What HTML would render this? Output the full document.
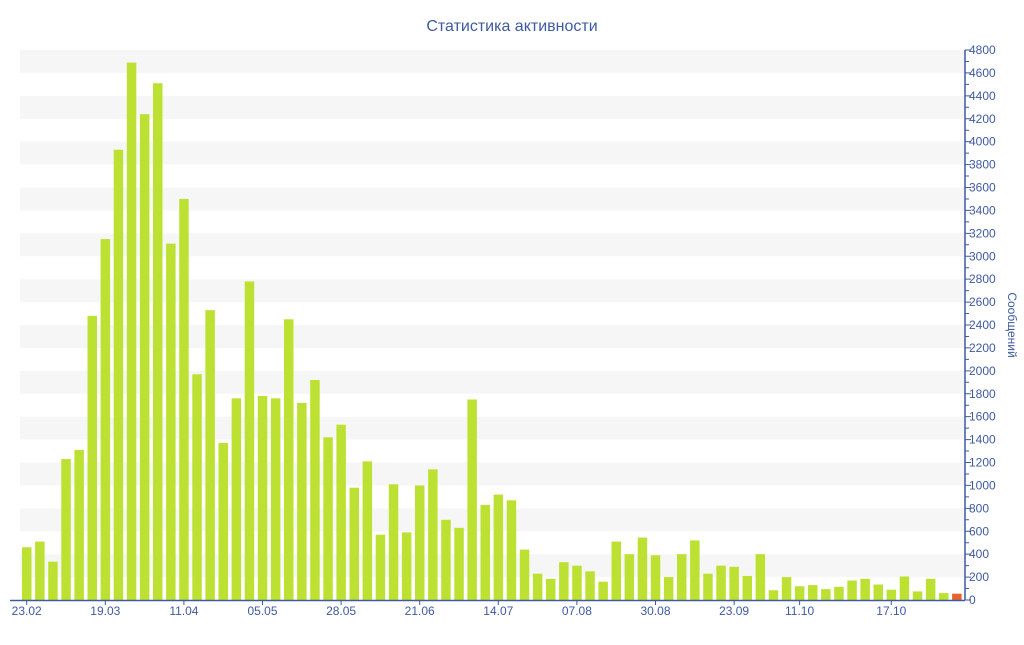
<!DOCTYPE html>
<html><head><meta charset="utf-8"><style>
body{margin:0;background:#fff;}
svg text{font-family:"Liberation Sans","DejaVu Sans",sans-serif;fill:#3e5aa0;}
</style></head><body>
<svg width="1024" height="640" xmlns="http://www.w3.org/2000/svg">
<text x="512" y="31" text-anchor="middle" font-size="16">Статистика активности</text>
<g fill="#f6f6f6">
<rect x="20" y="554.17" width="945" height="22.92"/>
<rect x="20" y="508.33" width="945" height="22.92"/>
<rect x="20" y="462.5" width="945" height="22.92"/>
<rect x="20" y="416.67" width="945" height="22.92"/>
<rect x="20" y="370.83" width="945" height="22.92"/>
<rect x="20" y="325" width="945" height="22.92"/>
<rect x="20" y="279.17" width="945" height="22.92"/>
<rect x="20" y="233.33" width="945" height="22.92"/>
<rect x="20" y="187.5" width="945" height="22.92"/>
<rect x="20" y="141.67" width="945" height="22.92"/>
<rect x="20" y="95.83" width="945" height="22.92"/>
<rect x="20" y="50" width="945" height="22.92"/>
</g>
<g fill="#bde132">
<rect x="22" y="547.29" width="9.5" height="52.71"/>
<rect x="35.1" y="541.56" width="9.5" height="58.44"/>
<rect x="48.2" y="561.61" width="9.5" height="38.39"/>
<rect x="61.3" y="459.06" width="9.5" height="140.94"/>
<rect x="74.4" y="449.9" width="9.5" height="150.1"/>
<rect x="87.5" y="315.83" width="9.5" height="284.17"/>
<rect x="100.6" y="239.06" width="9.5" height="360.94"/>
<rect x="113.7" y="149.69" width="9.5" height="450.31"/>
<rect x="126.8" y="62.6" width="9.5" height="537.4"/>
<rect x="139.9" y="114.17" width="9.5" height="485.83"/>
<rect x="153" y="83.23" width="9.5" height="516.77"/>
<rect x="166.1" y="243.65" width="9.5" height="356.35"/>
<rect x="179.2" y="198.96" width="9.5" height="401.04"/>
<rect x="192.3" y="374.27" width="9.5" height="225.73"/>
<rect x="205.4" y="310.1" width="9.5" height="289.9"/>
<rect x="218.5" y="443.02" width="9.5" height="156.98"/>
<rect x="231.6" y="398.33" width="9.5" height="201.67"/>
<rect x="244.7" y="281.46" width="9.5" height="318.54"/>
<rect x="257.8" y="396.04" width="9.5" height="203.96"/>
<rect x="270.9" y="398.33" width="9.5" height="201.67"/>
<rect x="284" y="319.27" width="9.5" height="280.73"/>
<rect x="297.1" y="402.92" width="9.5" height="197.08"/>
<rect x="310.2" y="380" width="9.5" height="220"/>
<rect x="323.3" y="437.29" width="9.5" height="162.71"/>
<rect x="336.4" y="424.69" width="9.5" height="175.31"/>
<rect x="349.5" y="487.71" width="9.5" height="112.29"/>
<rect x="362.6" y="461.35" width="9.5" height="138.65"/>
<rect x="375.7" y="534.69" width="9.5" height="65.31"/>
<rect x="388.8" y="484.27" width="9.5" height="115.73"/>
<rect x="401.9" y="532.4" width="9.5" height="67.6"/>
<rect x="415" y="485.42" width="9.5" height="114.58"/>
<rect x="428.1" y="469.37" width="9.5" height="130.63"/>
<rect x="441.2" y="519.79" width="9.5" height="80.21"/>
<rect x="454.3" y="527.81" width="9.5" height="72.19"/>
<rect x="467.4" y="399.48" width="9.5" height="200.52"/>
<rect x="480.5" y="504.9" width="9.5" height="95.1"/>
<rect x="493.6" y="494.58" width="9.5" height="105.42"/>
<rect x="506.7" y="500.31" width="9.5" height="99.69"/>
<rect x="519.8" y="549.58" width="9.5" height="50.42"/>
<rect x="532.9" y="573.65" width="9.5" height="26.35"/>
<rect x="546" y="578.8" width="9.5" height="21.2"/>
<rect x="559.1" y="562.19" width="9.5" height="37.81"/>
<rect x="572.2" y="565.62" width="9.5" height="34.38"/>
<rect x="585.3" y="571.35" width="9.5" height="28.65"/>
<rect x="598.4" y="581.67" width="9.5" height="18.33"/>
<rect x="611.5" y="541.56" width="9.5" height="58.44"/>
<rect x="624.6" y="554.17" width="9.5" height="45.83"/>
<rect x="637.7" y="537.55" width="9.5" height="62.45"/>
<rect x="650.8" y="555.31" width="9.5" height="44.69"/>
<rect x="663.9" y="577.08" width="9.5" height="22.92"/>
<rect x="677" y="554.17" width="9.5" height="45.83"/>
<rect x="690.1" y="540.42" width="9.5" height="59.58"/>
<rect x="703.2" y="573.65" width="9.5" height="26.35"/>
<rect x="716.3" y="565.62" width="9.5" height="34.38"/>
<rect x="729.4" y="566.77" width="9.5" height="33.23"/>
<rect x="742.5" y="575.94" width="9.5" height="24.06"/>
<rect x="755.6" y="554.17" width="9.5" height="45.83"/>
<rect x="768.7" y="590.26" width="9.5" height="9.74"/>
<rect x="781.8" y="577.08" width="9.5" height="22.92"/>
<rect x="794.9" y="586.25" width="9.5" height="13.75"/>
<rect x="808" y="585.1" width="9.5" height="14.9"/>
<rect x="821.1" y="589.11" width="9.5" height="10.89"/>
<rect x="834.2" y="586.82" width="9.5" height="13.18"/>
<rect x="847.3" y="580.52" width="9.5" height="19.48"/>
<rect x="860.4" y="578.8" width="9.5" height="21.2"/>
<rect x="873.5" y="584.53" width="9.5" height="15.47"/>
<rect x="886.6" y="589.69" width="9.5" height="10.31"/>
<rect x="899.7" y="576.51" width="9.5" height="23.49"/>
<rect x="912.8" y="591.41" width="9.5" height="8.59"/>
<rect x="925.9" y="578.8" width="9.5" height="21.2"/>
<rect x="939" y="593.12" width="9.5" height="6.88"/>
</g>
<rect x="952.1" y="593.7" width="9.5" height="6.3" fill="#e8622e"/>
<g stroke="#3e5aa0" fill="none">
<line x1="965" y1="50" x2="965" y2="600" stroke-width="1.5"/>
<line x1="10" y1="600.5" x2="965" y2="600.5" stroke-width="1.5"/>
<path d="M965 600H971M965 577.08H971M965 554.17H971M965 531.25H971M965 508.33H971M965 485.42H971M965 462.5H971M965 439.58H971M965 416.67H971M965 393.75H971M965 370.83H971M965 347.92H971M965 325H971M965 302.08H971M965 279.17H971M965 256.25H971M965 233.33H971M965 210.42H971M965 187.5H971M965 164.58H971M965 141.67H971M965 118.75H971M965 95.83H971M965 72.92H971M965 50H971"/>
<path d="M965 588.54H969M965 565.63H969M965 542.71H969M965 519.79H969M965 496.88H969M965 473.96H969M965 451.04H969M965 428.13H969M965 405.21H969M965 382.29H969M965 359.38H969M965 336.46H969M965 313.54H969M965 290.63H969M965 267.71H969M965 244.79H969M965 221.88H969M965 198.96H969M965 176.04H969M965 153.13H969M965 130.21H969M965 107.29H969M965 84.38H969M965 61.46H969"/>
<path d="M26.7 600V605M105.3 600V605M183.9 600V605M262.5 600V605M341.1 600V605M419.7 600V605M498.3 600V605M576.9 600V605M655.5 600V605M734.1 600V605M799.6 600V605M891.3 600V605"/>
</g>
<g font-size="12">
<text x="969" y="604">0</text>
<text x="969" y="581.08">200</text>
<text x="969" y="558.17">400</text>
<text x="969" y="535.25">600</text>
<text x="969" y="512.33">800</text>
<text x="969" y="489.42">1000</text>
<text x="969" y="466.5">1200</text>
<text x="969" y="443.58">1400</text>
<text x="969" y="420.67">1600</text>
<text x="969" y="397.75">1800</text>
<text x="969" y="374.83">2000</text>
<text x="969" y="351.92">2200</text>
<text x="969" y="329">2400</text>
<text x="969" y="306.08">2600</text>
<text x="969" y="283.17">2800</text>
<text x="969" y="260.25">3000</text>
<text x="969" y="237.33">3200</text>
<text x="969" y="214.42">3400</text>
<text x="969" y="191.5">3600</text>
<text x="969" y="168.58">3800</text>
<text x="969" y="145.67">4000</text>
<text x="969" y="122.75">4200</text>
<text x="969" y="99.83">4400</text>
<text x="969" y="76.92">4600</text>
<text x="969" y="54">4800</text>
</g>
<g font-size="12" text-anchor="middle">
<text x="26.7" y="615">23.02</text>
<text x="105.3" y="615">19.03</text>
<text x="183.9" y="615">11.04</text>
<text x="262.5" y="615">05.05</text>
<text x="341.1" y="615">28.05</text>
<text x="419.7" y="615">21.06</text>
<text x="498.3" y="615">14.07</text>
<text x="576.9" y="615">07.08</text>
<text x="655.5" y="615">30.08</text>
<text x="734.1" y="615">23.09</text>
<text x="799.6" y="615">11.10</text>
<text x="891.3" y="615">17.10</text>
</g>
<text transform="translate(1008,325) rotate(90)" text-anchor="middle" font-size="12">Сообщений</text>
</svg>
</body></html>
